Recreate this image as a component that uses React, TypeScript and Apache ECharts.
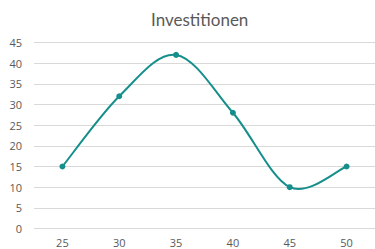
import React, { useEffect, useRef } from "react";
import * as echarts from "echarts";

const titleText = "Investitionen";
const categories = ["25", "30", "35", "40", "45", "50"];
const values = [15, 32, 42, 28, 10, 15];

const LINE_COLOR = "#168f8c";

export default function App() {
  const ref = useRef<HTMLDivElement>(null);
  useEffect(() => {
    document.body.style.margin = "0";
    const chart = echarts.init(ref.current!, null, { renderer: "svg" });
    const n = values.length;
    chart.setOption({
      animation: false,
      backgroundColor: "#ffffff",
      title: {
        text: titleText,
        left: 146,
        top: 6,
        textStyle: { fontFamily: "Lato", fontSize: 17, fontWeight: "normal", color: "#595959" },
      },
      grid: { left: 34, right: -4, top: 42.5, bottom: 20.5 },
      xAxis: {
        type: "category",
        data: categories,
        boundaryGap: true,
        axisLine: { show: false },
        axisTick: { show: false },
        axisLabel: { color: "#595959", fontSize: 11, fontFamily: "Open Sans", margin: 8 },
      },
      yAxis: {
        type: "value",
        min: 0,
        max: 45,
        interval: 5,
        axisLine: { show: false },
        axisTick: { show: false },
        axisLabel: { color: "#595959", fontSize: 11, fontFamily: "Open Sans", margin: 12 },
        splitLine: { lineStyle: { color: "#d9d9d9", width: 1 } },
      },
      series: [
        {
          type: "custom",
          data: values.map((v, i) => [i, v]),
          silent: true,
          z: 2,
          renderItem: (params: any, api: any) => {
            const i = params.dataIndex;
            if (i >= n - 1) return { type: "group", children: [] };
            const P = (k: number) => {
              const kk = Math.max(0, Math.min(n - 1, k));
              return api.coord([kk, values[kk]]);
            };
            const p0 = P(i - 1);
            const p1 = P(i);
            const p2 = P(i + 1);
            const p3 = P(i + 2);
            const t = 1 / 6;
            const cp1 = [p1[0] + (p2[0] - p0[0]) * t, p1[1] + (p2[1] - p0[1]) * t];
            const cp2 = [p2[0] - (p3[0] - p1[0]) * t, p2[1] - (p3[1] - p1[1]) * t];
            return {
              type: "bezierCurve",
              shape: {
                x1: p1[0], y1: p1[1],
                cpx1: cp1[0], cpy1: cp1[1],
                cpx2: cp2[0], cpy2: cp2[1],
                x2: p2[0], y2: p2[1],
              },
              style: { stroke: LINE_COLOR, lineWidth: 2, fill: "none", lineCap: "round" },
            };
          },
        },
        {
          type: "line",
          data: values,
          symbol: "circle",
          symbolSize: 6,
          z: 3,
          lineStyle: { opacity: 0 },
          itemStyle: { color: LINE_COLOR },
        },
      ],
    });
    return () => chart.dispose();
  }, []);
  return <div ref={ref} style={{ width: 375, height: 249 }} />;
}
